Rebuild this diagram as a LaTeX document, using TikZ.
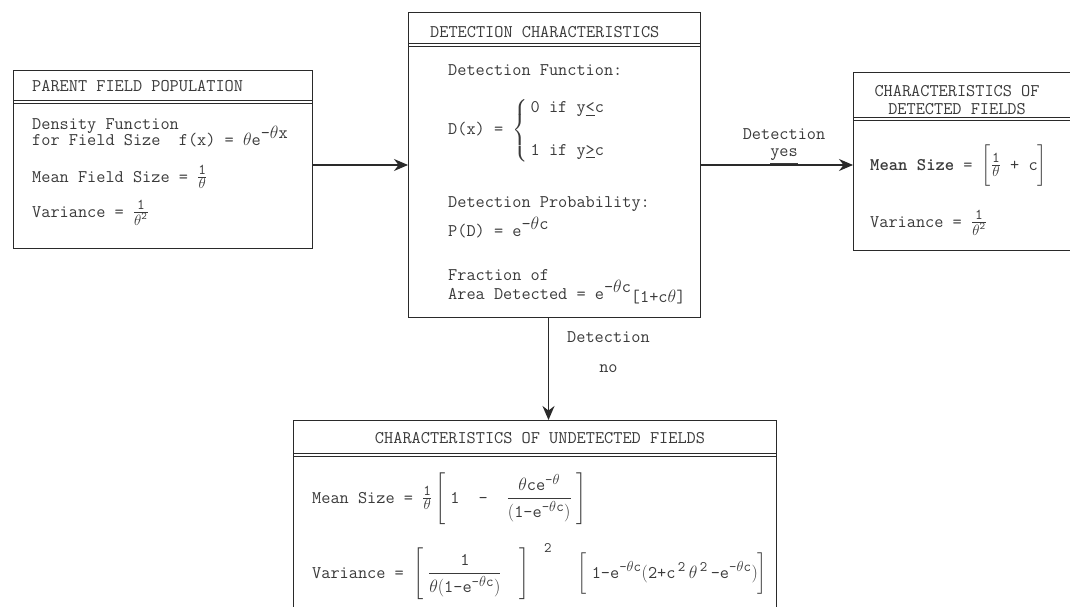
\RequirePackage{fix-cm}
\documentclass[tikz,border=0pt]{standalone}
\usepackage{fontspec}
\usepackage{amsmath}
\usetikzlibrary{arrows.meta, positioning, calc}
\definecolor{inkgrey}{HTML}{3a3a3a}
\definecolor{linegrey}{HTML}{2a2a2a}
\newcommand{\tw}{\fontsize{17.8}{15}\selectfont\ttfamily}
\newcommand{\up}[1]{\raisebox{7pt}{#1}}
\newcommand{\sm}[1]{\text{\fontsize{15}{15}\selectfont #1}}
\newcommand{\fr}[2]{\genfrac{}{}{0.6pt}{1}{\sm{#1}}{\sm{#2}}}
\newcommand{\ex}[1]{^{\text{\fontsize{14.5}{14.5}\selectfont #1}}}
\tikzset{
  frame/.style={draw=linegrey, line width=1pt, anchor=north west, inner sep=0pt},
  rule/.style={draw=linegrey, line width=0.8pt},
  hdtext/.style={font=\tw, text=inkgrey, inner sep=0pt, align=center},
  bdtext/.style={font=\tw, text=inkgrey, inner sep=0pt, anchor=base west},
  flow/.style={-{Stealth[length=14pt,width=12pt]}, line width=1.4pt, draw=linegrey},
  flowlabel/.style={font=\tw, text=inkgrey, align=center, inner sep=2pt},
}
\begin{document}
\begin{tikzpicture}[x=1pt, y=-1pt]
  \clip (0,0) rectangle (1070,607);
  \fill[white] (0,0) rectangle (1070,607);

  % --- frames ---
  \node[frame, minimum width=299pt, minimum height=178pt] (parent)   at (13,70)  {};
  \node[frame, minimum width=292pt, minimum height=305pt] (detect)   at (408,12) {};
  \node[frame, minimum width=225pt, minimum height=178pt] (detected) at (853,72) {};
  \node[frame, minimum width=483pt, minimum height=210pt] (undet)    at (293,420) {};

  % double rule under each title
  \foreach \frm/\off in {parent/30, detect/31.5, detected/45, undet/33} {
    \draw[rule] ($(\frm.north west)+(0,\off)$) -- ($(\frm.north east)+(0,\off)$);
    \draw[rule] ($(\frm.north west)+(0,\off+3)$) -- ($(\frm.north east)+(0,\off+3)$);
  }

  % --- titles ---
  \node[hdtext, anchor=base west] (parenttitle) at (32,92) {PARENT FIELD POPULATION};
  \node[hdtext, anchor=base west] (detecttitle) at (430,38) {DETECTION CHARACTERISTICS};
  \node[hdtext] (detectedtitle) at (957,100) {CHARACTERISTICS OF\\[3pt]DETECTED FIELDS};
  \node[hdtext, anchor=base] (undettitle) at (540,443) {CHARACTERISTICS OF UNDETECTED FIELDS};

  % --- parent field population ---
  \node[bdtext] (pdens) at (32,129) {Density Function};
  \node[bdtext] (pfx)   at (32,146) {for Field Size\ \ f(x) = $\theta$e\up{-$\theta$x}};
  \node[bdtext] (pmean) at (32,182) {Mean Field Size = $\fr{1}{$\theta$}$};
  \node[bdtext] (pvar)  at (32,217) {Variance = $\fr{1}{$\theta^{\text{2}}$}$};

  % --- detection characteristics ---
  \node[bdtext] (dfunc) at (448,76) {Detection Function:};
  \node[bdtext] (dcase) at (448,135) {D(x) = $\left\{\begin{tabular}{@{\,}l@{}}0 if y\underline{<}c\\[27pt]1 if y\underline{>}c\end{tabular}\right.$};
  \node[bdtext] (dprob) at (448,207) {Detection Probability:};
  \node[bdtext] (dpd)   at (448,236) {P(D) = e\up{-$\theta$c}};
  \node[bdtext] (dfrac) at (448,280) {Fraction of};
  \node[bdtext] (darea) at (448,299) {Area Detected = e\up{-$\theta$c}\raisebox{-3pt}{[1+c$\theta$]}};

  % --- detected fields ---
  \node[bdtext] (tmean) at (870,170) {\textbf{Mean Size} =\ $\bigg[\fr{1}{$\theta$}\text{ + c}\bigg]$};
  \node[bdtext] (tvar)  at (870,227) {Variance = $\fr{1}{$\theta^{\text{2}}$}$};

  % --- undetected fields ---
  \node[bdtext] (umean) at (312,503) {Mean Size = $\fr{1}{$\theta$}\left[\;\text{1}\;\;\text{ - }\;\;\dfrac{\theta\text{ce}\ex{-$\theta$}}{(\text{1-e}\ex{-$\theta$c})}\;\right]$};
  \node[bdtext] (uvar)  at (312,578) {Variance = $\left[\;\dfrac{\text{1}}{\theta(\text{1-e}\ex{-$\theta$c})}\quad\right]\ex{\quad 2}\quad\;\left[\;\text{1-e}\ex{-$\theta$c}(\text{2+c}\ex{\,2}\,\theta\ex{\,2}\,\text{-e}\ex{-$\theta$c})\vphantom{\dfrac{1}{\theta(1)}}\right]$};

  % --- flows ---
  \draw[flow] (parent.east |- detect.west) -- (detect.west);
  \draw[flow] (detect.east) -- node[flowlabel, above, xshift=7pt, yshift=-2pt] (yeslabel) {Detection\\[2pt]\underline{yes}} (detect.east -| detected.west);
  \draw[flow] ([xshift=-6pt]detect.south) -- node[flowlabel, right, pos=0.335, xshift=16pt] (nolabel) {Detection\\[15pt]no} ([xshift=-6pt]detect.south |- undet.north);
\end{tikzpicture}
\end{document}
